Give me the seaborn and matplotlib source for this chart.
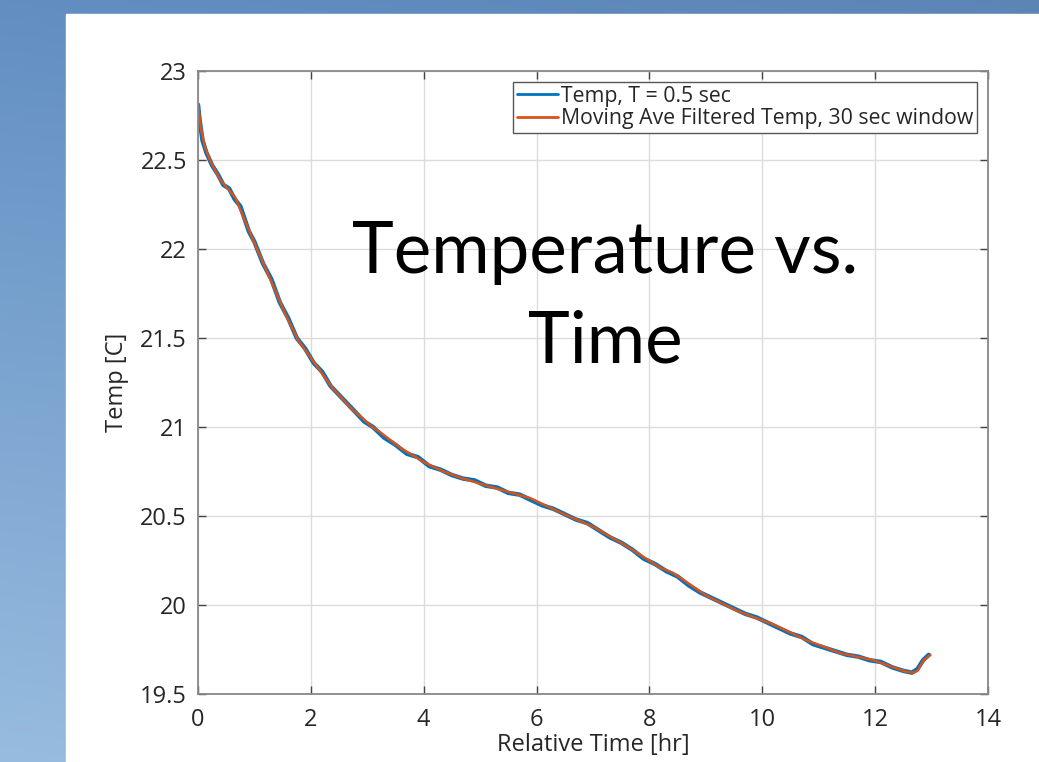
import numpy as np
import matplotlib
matplotlib.use("Agg")
import matplotlib.pyplot as plt
import seaborn as sns

# raw 0.5 s temperature samples
raw_time = [0, 0.03, 0.08, 0.15, 0.25, 0.35, 0.45, 0.55, 0.65, 0.75, 0.9, 1.0,
            1.15, 1.3, 1.45, 1.6, 1.75, 1.9, 2.05, 2.2, 2.35, 2.5, 2.65, 2.8,
            2.95, 3.1, 3.3, 3.5, 3.7, 3.9, 4.1, 4.3, 4.5, 4.7, 4.9, 5.1, 5.3,
            5.5, 5.7, 5.9, 6.1, 6.3, 6.5, 6.7, 6.9, 7.1, 7.3, 7.5, 7.7, 7.9,
            8.1, 8.3, 8.5, 8.7, 8.9, 9.1, 9.3, 9.5, 9.7, 9.9, 10.1, 10.3, 10.5,
            10.7, 10.9, 11.1, 11.3, 11.5, 11.7, 11.9, 12.1, 12.3, 12.5, 12.65,
            12.75, 12.85, 12.95]
raw_temp = [22.81, 22.72, 22.61, 22.54, 22.47, 22.42, 22.36, 22.34, 22.28, 22.24,
            22.10, 22.04, 21.92, 21.83, 21.70, 21.61, 21.50, 21.44, 21.36, 21.31,
            21.23, 21.18, 21.13, 21.08, 21.03, 21.00, 20.94, 20.90, 20.85, 20.83,
            20.78, 20.76, 20.73, 20.71, 20.70, 20.67, 20.66, 20.63, 20.62, 20.59,
            20.56, 20.54, 20.51, 20.48, 20.46, 20.42, 20.38, 20.35, 20.31, 20.26,
            20.23, 20.19, 20.16, 20.11, 20.07, 20.04, 20.01, 19.98, 19.95, 19.93,
            19.90, 19.87, 19.84, 19.82, 19.78, 19.76, 19.74, 19.72, 19.71, 19.69,
            19.68, 19.65, 19.63, 19.62, 19.64, 19.69, 19.72]

# moving average filtered temperature
filt_time = [0.0, 0.05, 0.12, 0.21, 0.39, 0.66, 0.83, 1.06, 1.31, 1.54, 1.77,
             2.02, 2.38, 2.73, 3.09, 3.23, 3.6, 4.02, 4.35, 4.70, 5.23, 5.89,
             6.42, 7.0, 7.6, 8.19, 8.42, 9.02, 9.61, 10.2, 10.8, 11.38, 11.97,
             12.32, 12.55, 12.68, 12.75, 12.86, 12.98]
filt_temp = [22.82, 22.68, 22.575, 22.50, 22.39, 22.29, 22.16, 21.99, 21.81,
             21.64, 21.49, 21.38, 21.22, 21.10, 21.00, 20.97, 20.88, 20.80, 20.75,
             20.71, 20.66, 20.60, 20.52, 20.44, 20.33, 20.21, 20.18, 20.05, 19.96,
             19.89, 19.80, 19.73, 19.69, 19.65, 19.625, 19.62, 19.63, 19.69, 19.72]

x_ticks = [0, 2, 4, 6, 8, 10, 12, 14]
y_ticks = [19.5, 20, 20.5, 21, 21.5, 22, 22.5, 23]
y_tick_labels = ["19.5", "20", "20.5", "21", "21.5", "22", "22.5", "23"]

sns.set_theme(style="white")
plt.rcParams['font.family'] = ['Open Sans', 'DejaVu Sans']

W, H = 1039, 762
fig = plt.figure(figsize=(W / 100, H / 100), dpi=100)

# slide background: blue gradient with white panel
bg = fig.add_axes([0, 0, 1, 1])
gy = np.linspace(0, 1, 200)[:, None]
gx = np.linspace(0, 1, 200)[None, :]
top = np.array([98, 142, 194]) / 255
bot = np.array([160, 196, 228]) / 255
img = top + (bot - top) * (gy[..., None] * 0.85)
img = img * (1 - 0.06 * gx[..., None])
bg.imshow(img, aspect='auto', extent=[0, 1, 0, 1], origin='upper')
bg.add_patch(plt.Rectangle((66 / W, 0), 1, 1 - 14 / H, color='white'))
bg.set_xlim(0, 1)
bg.set_ylim(0, 1)
bg.axis('off')

ax = fig.add_axes([198 / W, 1 - 694 / H, (988 - 198) / W, (694 - 71) / H])
blue = '#0072BD'
orange = '#D95319'
sns.lineplot(x=raw_time, y=raw_temp, ax=ax, color=blue, lw=3.2,
             label='Temp, T = 0.5 sec')
sns.lineplot(x=filt_time, y=filt_temp, ax=ax, color=orange, lw=1.8,
             label='Moving Ave Filtered Temp, 30 sec window')

ax.set_xlim(0, 14)
ax.set_ylim(19.5, 23)
ax.set_xticks(x_ticks)
ax.set_yticks(y_ticks)
ax.set_yticklabels(y_tick_labels)
ax.grid(True, color='#dcdcdc', lw=1)
for s in ax.spines.values():
    s.set_color('#888888')
    s.set_linewidth(1.3)
ax.tick_params(direction='in', length=6, width=1, color='#444444',
               labelsize=17, labelcolor='#262626', top=True, right=True,
               bottom=True, left=True)
ax.tick_params(axis='y', pad=8)
ax.tick_params(axis='x', pad=10)
ax.set_xlabel('Relative Time [hr]', fontsize=17, color='#262626', labelpad=1)
ax.set_ylabel('Temp [C]', fontsize=17, color='#262626', labelpad=8)

leg = ax.legend(loc='upper right', fontsize=15.3, frameon=True, fancybox=False,
                framealpha=1, edgecolor='#555555', handlelength=1.9,
                handletextpad=0.15, borderpad=0.2, labelspacing=0.05,
                borderaxespad=0.5)
leg.get_frame().set_linewidth(1.0)
for line in leg.get_lines():
    line.set_linewidth(2)

fig.text(605 / W, 1 - 252 / H, 'Temperature vs.', fontsize=51, family='Lato',
         ha='center', va='center', color='black')
fig.text(605 / W, 1 - 342 / H, 'Time', fontsize=51, family='Lato',
         ha='center', va='center', color='black')

fig.savefig('out.png', dpi=100)
